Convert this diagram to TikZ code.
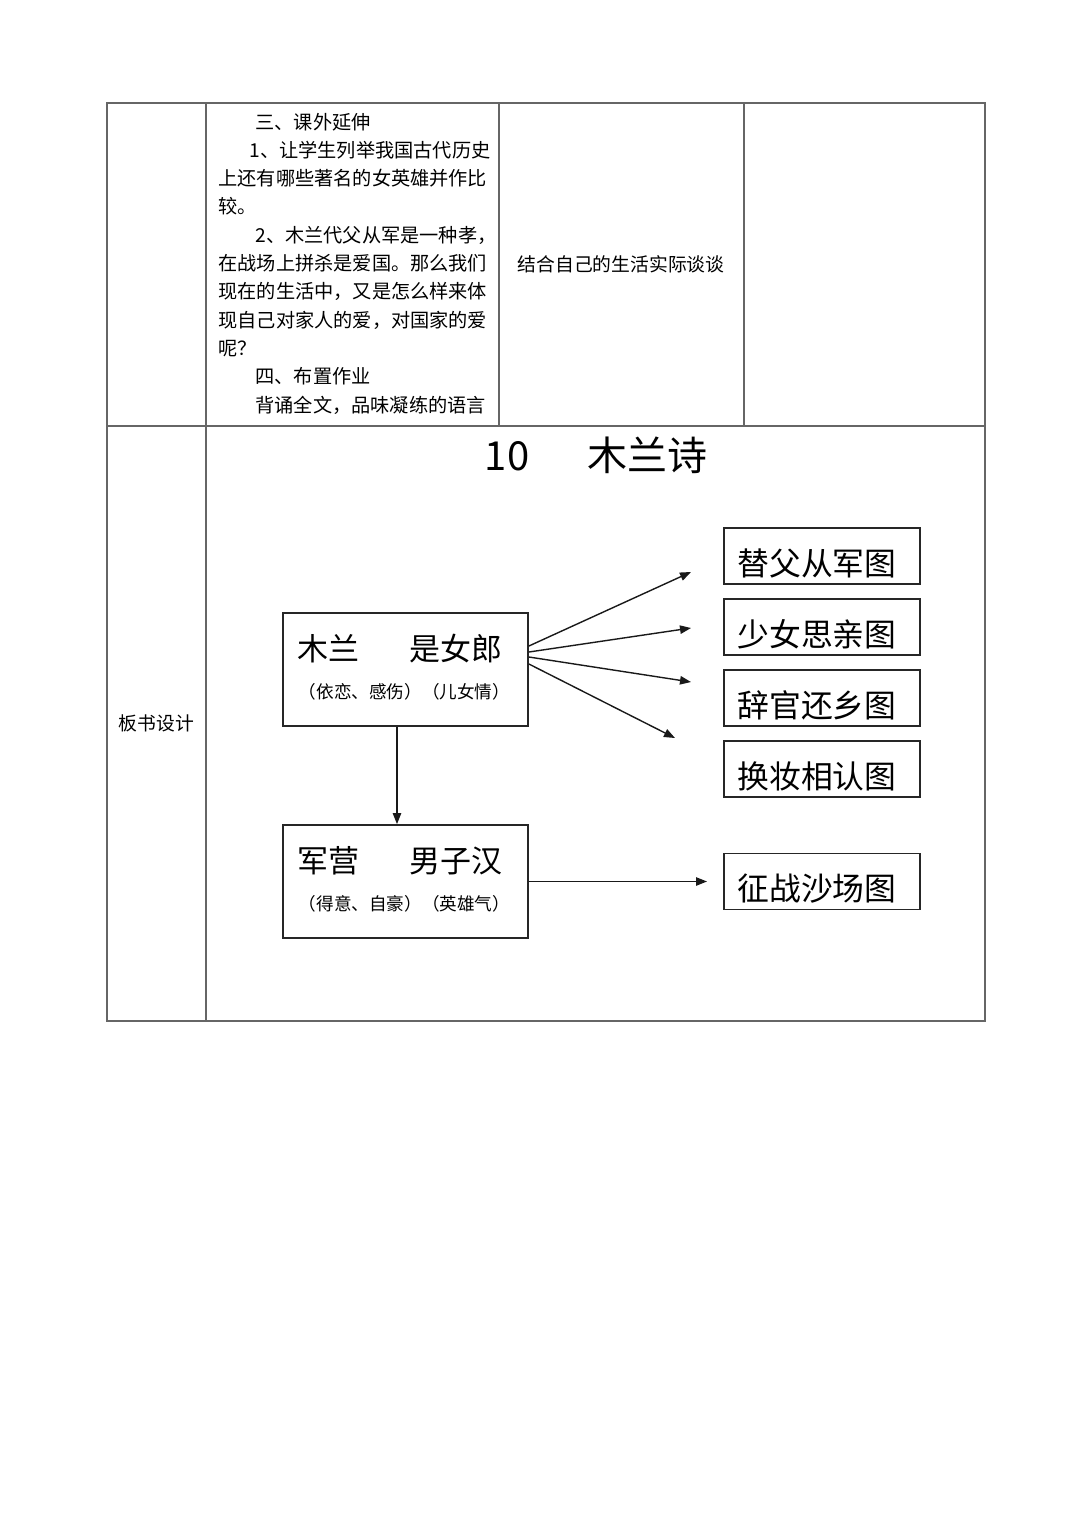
\documentclass[tikz,border=0pt]{standalone}
\usepackage{fontspec}
\newfontfamily\hei{Noto Sans CJK SC}
\usetikzlibrary{arrows.meta}

\begin{document}
\begin{tikzpicture}[
  x=0.5pt, y=-0.5pt,
  grid/.style={line width=0.6pt, black!60},
  cell/.style={font=\hei\fontsize{9.6}{14.15}\selectfont, inner sep=0pt},
  box/.style={draw=black!85, line width=0.9pt, inner sep=0pt},
  picbox/.style={box, minimum width=98pt, minimum height=28pt,
    font=\hei\fontsize{15.9}{18}\selectfont, text height=19.2pt, text depth=0pt,
    execute at end node={\hspace*{5pt}}},
  big/.style={font=\hei\fontsize{15.5}{18}\selectfont, inner sep=0pt},
  small/.style={font=\hei\fontsize{8.8}{10}\selectfont, inner sep=0pt},
  arr/.style={-{Triangle[length=5.5pt,width=4.2pt]}, line width=0.7pt, black!90}
]
\useasboundingbox (0,0) rectangle (1080,1527);
\fill[white] (0,0) rectangle (1080,1527);

% table frame
\draw[grid] (107,103) rectangle (985,1021);
\draw[grid] (107,426) -- (985,426);
\draw[grid] (206,103) -- (206,1021);
\draw[grid] (499,103) -- (499,426);
\draw[grid] (744,103) -- (744,426);

% upper row
\node[cell, anchor=north west, align=left] (ext) at (218,112.5) {%
\hspace*{18.5pt}三、课外延伸\\
\hspace*{15.5pt}1、让学生列举我国古代历史\\
上还有哪些著名的女英雄并作比\\
较。\\
\hspace*{18.5pt}2、木兰代父从军是一种孝，\\
在战场上拼杀是爱国。那么我们\\
现在的生活中，又是怎么样来体\\
现自己对家人的爱，对国家的爱\\
呢？\\
\hspace*{18.5pt}四、布置作业\\
\hspace*{18.5pt}背诵全文，品味凝练的语言};
\node[cell, font=\hei\fontsize{9.4}{12}\selectfont] (talk) at (621,264) {结合自己的生活实际谈谈};

% lower row
\node[cell, font=\hei\fontsize{9.4}{12}\selectfont] (board) at (156.5,723) {板书设计};
\node[font=\hei\fontsize{20}{24}\selectfont, inner sep=0pt] (title) at (596,455) {10\hspace{29pt}木兰诗};

% left boxes
\node[box, minimum width=122.5pt, minimum height=56.5pt] (mulan) at (405.5,669.5) {};
\node[big] (mulanhead) at (400,648.5) {木兰\hspace{25pt}是女郎};
\node[small] (mulansub) at (404.5,691.5) {（依恋、感伤）（儿女情）};

\node[box, minimum width=122.5pt, minimum height=56.5pt] (army) at (405.5,881.5) {};
\node[big] (armyhead) at (400,860.5) {军营\hspace{25pt}男子汉};
\node[small] (armysub) at (404.5,903.5) {（得意、自豪）（英雄气）};

% right boxes
\node[picbox] (pic1) at (822,556) {替父从军图};
\node[picbox] (pic2) at (822,627) {少女思亲图};
\node[picbox] (pic3) at (822,698) {辞官还乡图};
\node[picbox] (pic4) at (822,769) {换妆相认图};
\node[picbox] (pic5) at (822,881.5) {征战沙场图};

% arrows
\coordinate (p1) at (691,572);
\coordinate (p2) at (691,628);
\coordinate (p3) at (691,682);
\coordinate (p4) at (675,738);
\coordinate (p5) at (707,881.5);
\draw[arr] ([yshift=11.75pt]mulan.east) -- (p1);
\draw[arr] ([yshift=8.75pt]mulan.east) -- (p2);
\draw[arr] ([yshift=6.25pt]mulan.east) -- (p3);
\draw[arr] ([yshift=2.75pt]mulan.east) -- (p4);
\draw[arr] ([xshift=-4.25pt]mulan.south) -- ([xshift=-4.25pt]army.north);
\draw[arr] (army.east) -- (p5);

\end{tikzpicture}
\end{document}
